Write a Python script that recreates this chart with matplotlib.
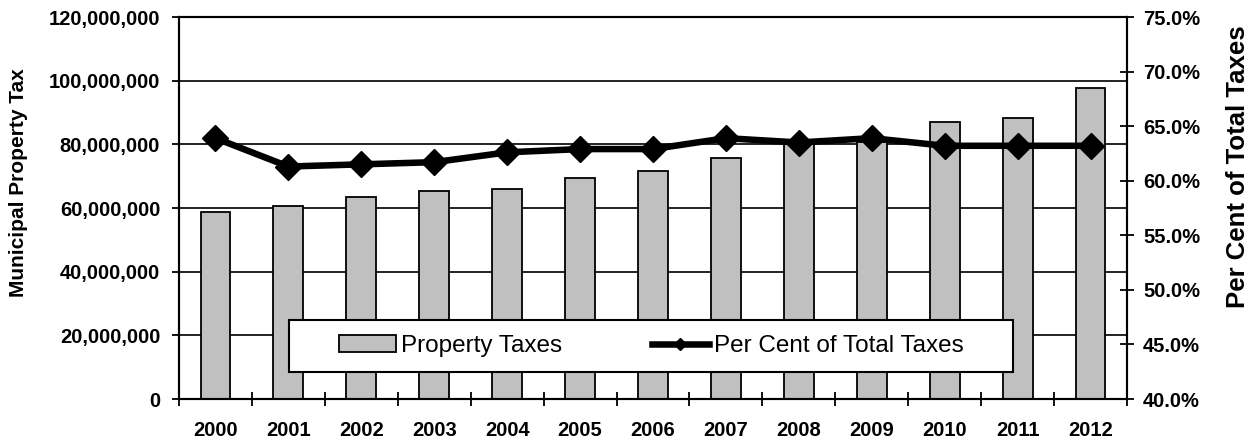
import matplotlib
matplotlib.use('Agg')
import matplotlib.pyplot as plt
from matplotlib.patches import Rectangle
from matplotlib.ticker import FuncFormatter, FixedLocator

plt.rcParams['font.family'] = ['Liberation Sans', 'DejaVu Sans']

# data
years = ['2000', '2001', '2002', '2003', '2004', '2005', '2006',
         '2007', '2008', '2009', '2010', '2011', '2012']
property_taxes = [58.7e6, 60.6e6, 63.6e6, 65.3e6, 65.9e6, 69.3e6, 71.6e6,
                  75.7e6, 80.3e6, 80.8e6, 87.0e6, 88.3e6, 97.7e6]
pct_of_total = [0.639, 0.613, 0.615, 0.617, 0.626, 0.629, 0.629,
                0.639, 0.635, 0.639, 0.632, 0.632, 0.632]

W, H = 1257, 444
fig = plt.figure(figsize=(W / 100, H / 100), dpi=100)
fig.patch.set_facecolor('white')

# plot area in pixels: x 179..1127, y 17..399
ax = fig.add_axes([179 / W, (H - 399) / H, (1127 - 179) / W, (399 - 17) / H])
ax2 = ax.twinx()

x = list(range(len(years)))
ax.bar(x, property_taxes, width=0.41, color='#C0C0C0', edgecolor='black',
       linewidth=1.3, label='Property Taxes', zorder=2)
ax.set_xlim(-0.5, len(years) - 0.5)
ax.set_ylim(0, 120e6)
ax.set_yticks(range(0, 120000001, 20000000))
ax.yaxis.set_major_formatter(FuncFormatter(lambda v, p: f'{v:,.0f}'))
ax.grid(axis='y', color='#111111', linewidth=1.3)
ax.set_axisbelow(True)

ax.set_xticks(x)
ax.set_xticklabels(years)
ax.xaxis.set_minor_locator(FixedLocator([i - 0.5 for i in range(len(years) + 1)]))
ax.tick_params(axis='x', which='major', length=0, pad=16, labelsize=14.5)
ax.tick_params(axis='x', which='minor', direction='inout', length=10, width=1.3)
ax.tick_params(axis='y', direction='out', length=5, width=1.3, pad=8.5, labelsize=14.5)
for lab in ax.get_xticklabels() + ax.get_yticklabels():
    lab.set_fontweight('bold')

ax2.plot(x, pct_of_total, color='black', linewidth=4.7, marker='D',
         markersize=13.5, markeredgewidth=1, label='Per Cent of Total Taxes',
         zorder=3)
ax2.set_ylim(0.40, 0.75)
ax2.set_yticks([0.40, 0.45, 0.50, 0.55, 0.60, 0.65, 0.70, 0.75])
ax2.yaxis.set_major_formatter(FuncFormatter(lambda v, p: f'{v * 100:.1f}%'))
ax2.tick_params(axis='y', direction='inout', length=10, width=1.3, pad=6.5, labelsize=14.5)
for lab in ax2.get_yticklabels():
    lab.set_fontweight('bold')

for a in (ax, ax2):
    for s in a.spines.values():
        s.set_linewidth(1.5)
        s.set_color('black')

fig.text(19 / W, (H - 183) / H, 'Municipal Property Tax', rotation=90,
         ha='center', va='center', fontsize=15, fontweight='bold')
fig.text(1238 / W, (H - 167) / H, 'Per Cent of Total Taxes', rotation=90,
         ha='center', va='center', fontsize=18.5, fontweight='bold')

# legend box: x 289..1013, y 320..372
box = Rectangle((289 / W, (H - 372) / H), (1013 - 289) / W, (372 - 320) / H,
                transform=fig.transFigure, facecolor='white', edgecolor='black',
                linewidth=1.5, zorder=4)
fig.add_artist(box)
h1, l1 = ax.get_legend_handles_labels()
h2, l2 = ax2.get_legend_handles_labels()
leg = fig.legend(h1 + h2, l1 + l2, loc='center', ncol=2,
                 bbox_to_anchor=((289 + 1013) / 2 / W, (H - 346) / H),
                 frameon=False, fontsize=17.5, handlelength=2.35,
                 handleheight=0.74, handletextpad=0.2, columnspacing=3.7,
                 markerscale=0.45)
leg.set_zorder(5)

fig.savefig('out.png', dpi=100, facecolor='white')
